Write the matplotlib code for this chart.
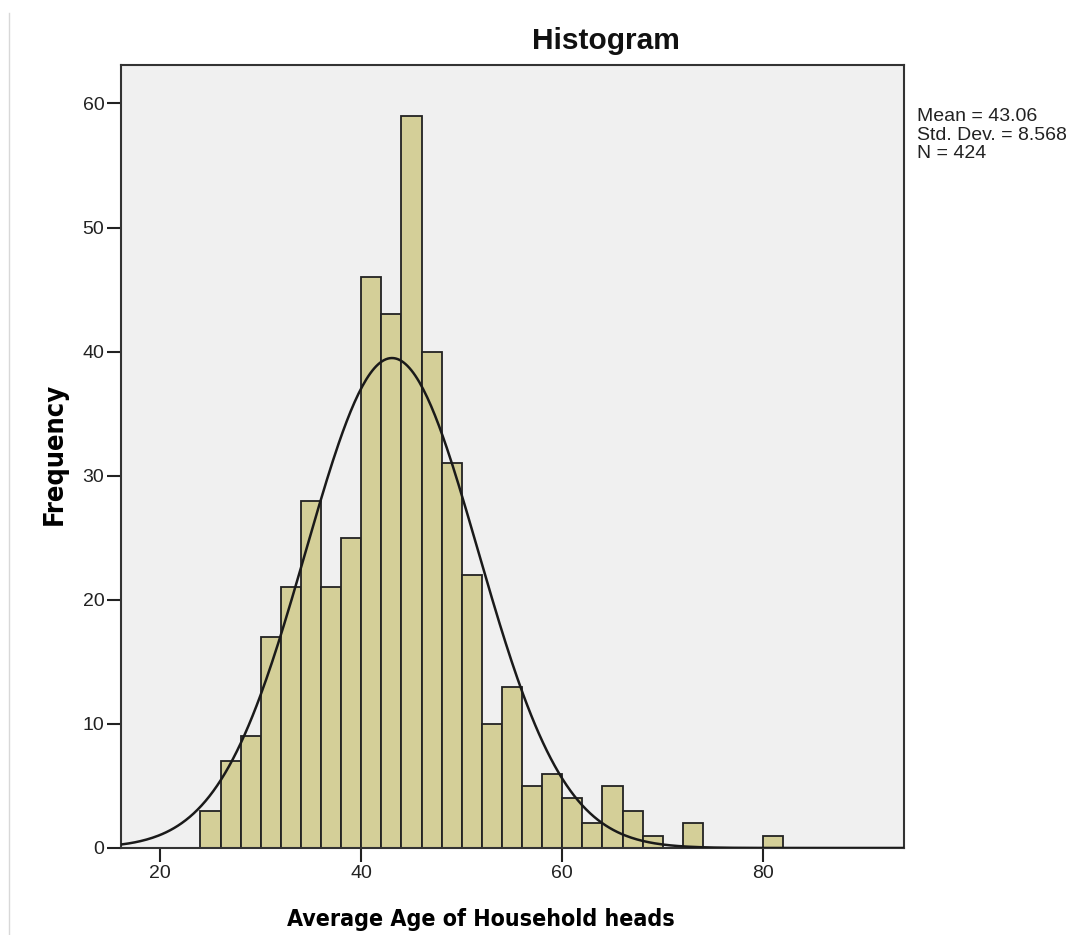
import numpy as np
import matplotlib.pyplot as plt
from matplotlib.lines import Line2D

# histogram bins (2-year width) and counts
bin_edges = np.arange(24, 84, 2)
counts = [3, 7, 9, 17, 21, 28, 21, 25, 46, 43, 59, 40, 31, 22, 10, 13,
          5, 6, 4, 2, 5, 3, 1, 0, 2, 0, 0, 0, 1]

mean = 43.06
std = 8.568
n = 424
bin_width = 2

plt.rcParams['font.family'] = ['Liberation Sans', 'DejaVu Sans']

fig = plt.figure(figsize=(10.79, 9.35), dpi=100)
ax = fig.add_axes([121 / 1079, 1 - 848 / 935, (904 - 121) / 1079, (848 - 65) / 935])
ax.set_facecolor('#f0f0f0')

ax.bar(bin_edges[:-1], counts, width=bin_width, align='edge',
       color='#d4cf98', edgecolor='#222222', linewidth=1.3, zorder=2)

# fitted normal curve
xs = np.linspace(16.1, 94, 400)
ys = n * bin_width * np.exp(-0.5 * ((xs - mean) / std) ** 2) / (std * np.sqrt(2 * np.pi))
ax.plot(xs, ys, color='#1a1a1a', linewidth=1.8, zorder=3)

ax.set_xlim(16.1, 94)
ax.set_ylim(0, 63.1)
ax.set_xticks([20, 40, 60, 80])
ax.set_yticks([0, 10, 20, 30, 40, 50, 60])
ax.tick_params(direction='out', length=10, width=1.5, color='#222222',
               labelsize=14, labelcolor='#222222', pad=2)
for s in ax.spines.values():
    s.set_linewidth(1.5)
    s.set_color('#333333')

label_font = dict(family='DejaVu Sans', stretch='condensed', fontweight='bold')
ax.set_xlabel('Average Age of Household heads', va='center', fontsize=16.7, **label_font)
ax.set_ylabel('Frequency', va='center', fontsize=19.5, **label_font)
ax.xaxis.set_label_coords(0.46, -0.0907)
ax.yaxis.set_label_coords(-0.0843, 0.503)

fig.text(606 / 1079, 1 - 49 / 935, 'Histogram', fontsize=21.5, fontweight='bold',
         ha='center', va='baseline', color='#111111')

fig.text(917 / 1079, 1 - 108 / 935,
         'Mean = %.2f\nStd. Dev. = %.3f\nN = %d' % (mean, std, n),
         fontsize=14, va='top', ha='left', color='#222222', linespacing=1.13)

fig.add_artist(Line2D([9 / 1079, 9 / 1079], [0, 1 - 13 / 935], color='#d8d8d8', linewidth=1))

fig.savefig('out.png', dpi=100)
